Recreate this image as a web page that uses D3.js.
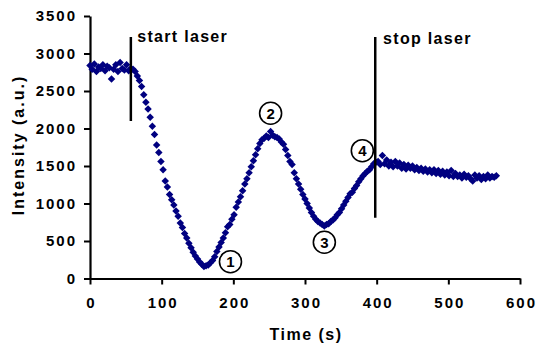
<!DOCTYPE html>
<html>
<head>
<meta charset="utf-8">
<script src="https://cdn.jsdelivr.net/npm/d3@7"></script>
<style>
  body { margin: 0; background: #fff; }
  svg { display: block; font-family: "Liberation Sans", Arial, sans-serif; }
</style>
</head>
<body>
<svg id="chart" width="536" height="345"></svg>
<script>
// time (s), one reading every 3 s
const times = d3.range(0, 568, 3);

// intensity (a.u.)
const intensity = [
  2840, 2790, 2860, 2760, 2820, 2800, 2850, 2770, 2830, 2810,
  2660, 2790, 2850, 2760, 2880, 2800, 2780, 2850, 2770, 2800,
  2790, 2760, 2700, 2640, 2560, 2450, 2350, 2260, 2150, 2030,
  1920, 1780, 1680, 1560, 1450, 1300, 1220, 1120, 1050, 980,
  900, 830, 740, 680, 600, 540, 470, 410, 350, 300,
  260, 220, 190, 160, 170, 180, 210, 240, 290, 360,
  420, 480, 540, 610, 690, 720, 790, 850, 950, 1020,
  1090, 1170, 1260, 1330, 1410, 1490, 1570, 1650, 1730, 1800,
  1850, 1870, 1900, 1880, 1960, 1910, 1890, 1880, 1860, 1820,
  1790, 1720, 1640, 1560, 1520, 1410, 1330, 1260, 1190, 1120,
  1060, 1000, 940, 880, 830, 790, 760, 740, 720, 700,
  720, 730, 760, 780, 810, 850, 880, 930, 980, 1030,
  1080, 1130, 1150, 1200, 1240, 1290, 1330, 1370, 1400, 1430,
  1450, 1490, 1530, 1550, 1560, 1520, 1640, 1530, 1580, 1500,
  1550, 1490, 1560, 1500, 1540, 1470, 1520, 1460, 1510, 1470,
  1500, 1450, 1480, 1440, 1470, 1430, 1460, 1420, 1450, 1410,
  1450, 1400, 1440, 1390, 1430, 1380, 1420, 1370, 1440, 1360,
  1400, 1360, 1380, 1340, 1390, 1350, 1370, 1330, 1300, 1380,
  1340, 1370, 1320, 1360, 1330, 1380, 1340, 1360, 1350, 1370
];

const xTicks = [0, 100, 200, 300, 400, 500, 600];
const yTicks = [0, 500, 1000, 1500, 2000, 2500, 3000, 3500];

// laser on / off markers: time, top, bottom, label
const laserMarks = [
  { t: 57, top: 3220, bottom: 2100, label: "start laser", lx: 66, ly: 3160 },
  { t: 398, top: 3220, bottom: 810, label: "stop laser", lx: 409, ly: 3133 }
];

// numbered points
const callouts = [
  { n: "1", t: 196, v: 224 },
  { n: "2", t: 252, v: 2203 },
  { n: "3", t: 327, v: 483 },
  { n: "4", t: 380, v: 1704 }
];

const svg = d3.select("#chart");

const x = d3.scaleLinear().domain([0, 600]).range([90, 520]);
const y = d3.scaleLinear().domain([0, 3500]).range([278.5, 16]);

// axes
const gy = svg.append("g")
    .attr("transform", "translate(90,0)")
    .call(d3.axisLeft(y).tickValues(yTicks).tickFormat(d3.format("d"))
        .tickSize(6).tickSizeOuter(0).tickPadding(7));

const gx = svg.append("g")
    .attr("transform", "translate(0,278.5)")
    .call(d3.axisBottom(x).tickValues(xTicks).tickFormat(d3.format("d"))
        .tickSize(6).tickSizeOuter(0).tickPadding(13));

[gx, gy].forEach(g => {
    g.select(".domain").attr("stroke", "#000").attr("stroke-width", 2.2);
    g.selectAll(".tick line").attr("stroke", "#000").attr("stroke-width", 2);
    g.selectAll(".tick text")
        .attr("fill", "#000")
        .style("font-size", "15px")
        .style("font-weight", "bold")
        .style("letter-spacing", "2px")
        .style("font-family", "'Liberation Sans', Arial, sans-serif");
});
gx.selectAll(".tick text").attr("dx", 1);

// axis titles
svg.append("text")
    .attr("transform", "translate(24,145) rotate(-90)")
    .attr("text-anchor", "middle")
    .style("font-size", "16px")
    .style("font-weight", "bold")
    .style("letter-spacing", "2px")
    .text("Intensity (a.u.)");

svg.append("text")
    .attr("x", 306)
    .attr("y", 340)
    .attr("text-anchor", "middle")
    .style("font-size", "16px")
    .style("font-weight", "bold")
    .style("letter-spacing", "1.5px")
    .text("Time (s)");

// data points (diamonds)
const diamond = d3.symbol().type(d3.symbolSquare).size(28);
svg.append("g")
    .selectAll("path")
    .data(times.map((t, i) => ({ t: t, v: intensity[i] })))
    .enter()
    .append("path")
    .attr("d", diamond)
    .attr("transform", d => `translate(${x(d.t)},${y(d.v)}) rotate(45)`)
    .attr("fill", "#000080");

// laser lines and labels
const marks = svg.append("g");
marks.selectAll("line")
    .data(laserMarks)
    .enter()
    .append("line")
    .attr("x1", d => x(d.t))
    .attr("x2", d => x(d.t))
    .attr("y1", d => y(d.top))
    .attr("y2", d => y(d.bottom))
    .attr("stroke", "#000")
    .attr("stroke-width", 2.5);

marks.selectAll("text")
    .data(laserMarks)
    .enter()
    .append("text")
    .attr("x", d => x(d.lx))
    .attr("y", d => y(d.ly))
    .style("font-size", "16px")
    .style("font-weight", "bold")
    .style("letter-spacing", "1.3px")
    .text(d => d.label);

// circled numbers
const co = svg.append("g")
    .selectAll("g")
    .data(callouts)
    .enter()
    .append("g")
    .attr("transform", d => `translate(${x(d.t)},${y(d.v)})`);

co.append("circle")
    .attr("r", 11)
    .attr("fill", "#fff")
    .attr("stroke", "#000")
    .attr("stroke-width", 1.6);

co.append("text")
    .attr("text-anchor", "middle")
    .attr("dy", "0.36em")
    .style("font-size", "15px")
    .style("font-weight", "bold")
    .text(d => d.n);
</script>
</body>
</html>
